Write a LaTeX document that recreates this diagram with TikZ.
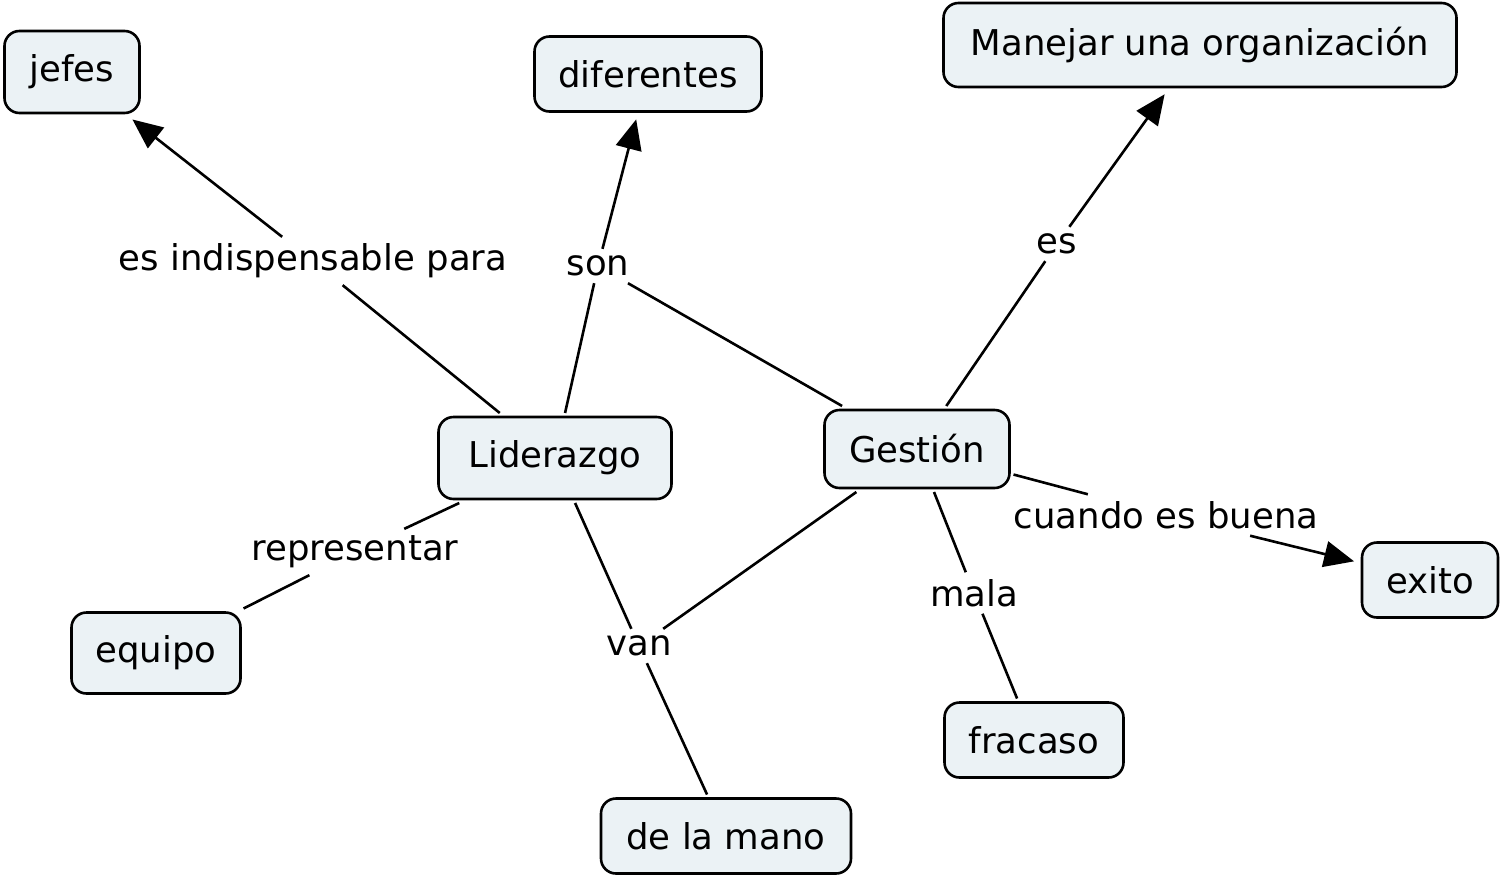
\documentclass[tikz,border=0pt]{standalone}
\usepackage{fontspec}
\setmainfont{DejaVu Sans}
\usetikzlibrary{arrows.meta}
\definecolor{nodefill}{RGB}{235,242,245}
\begin{document}
\begin{tikzpicture}[x=1pt,y=-1pt,
 cbox/.style={draw=black, line width=2.6pt, fill=nodefill, rounded corners=15pt, font=\fontsize{35.5}{42}\selectfont, inner sep=0pt, outer sep=4pt},
 lbl/.style={font=\fontsize{35.5}{42}\selectfont, inner sep=2pt, outer sep=5pt},
 link/.style={line width=2.6pt},
 arr/.style={link, -{Triangle[length=30pt,width=26pt]}, shorten >=4pt}
]
\useasboundingbox (0,0) rectangle (1504,881);
% concepts
\node[cbox, minimum width=135pt, minimum height=82pt] (jefes) at (72,72) {jefes};
\node[cbox, minimum width=227pt, minimum height=75pt] (dif) at (648,74) {diferentes};
\node[cbox, minimum width=513pt, minimum height=84pt] (man) at (1200,45) {Manejar una organización};
\node[cbox, minimum width=233pt, minimum height=82pt] (lid) at (555,458) {Liderazgo};
\node[cbox, minimum width=185pt, minimum height=78pt] (ges) at (917,449) {Gestión};
\node[cbox, minimum width=136pt, minimum height=75pt] (exito) at (1430,580) {exito};
\node[cbox, minimum width=169pt, minimum height=81pt] (equipo) at (156,653) {equipo};
\node[cbox, minimum width=179pt, minimum height=75pt] (fracaso) at (1034,740) {fracaso};
\node[cbox, minimum width=250pt, minimum height=75pt] (mano) at (726,836) {de la mano};
% linking phrases
\node[lbl] (l1) at (313,261) {es indispensable para};
\node[lbl] (l2) at (598,266) {son};
\node[lbl] (l3) at (1057,244) {es};
\node[lbl] (l4) at (1166,515) {cuando es buena};
\node[lbl] (l5) at (974,593) {mala};
\node[lbl] (l6) at (639,646) {van};
\node[lbl] (l7) at (355,552) {representar};
% connectors
\draw[link] (lid) -- (l1); \draw[arr] (l1) -- (jefes);
\draw[link] (lid) -- (l2); \draw[link] (ges) -- (l2); \draw[arr] (l2) -- (dif);
\draw[link] (ges) -- (l3); \draw[arr] (l3) -- (man);
\draw[link] (ges) -- (l4); \draw[arr] (l4) -- (exito);
\draw[link] (ges) -- (l5); \draw[link] (l5) -- (fracaso);
\draw[link] (lid) -- (l6); \draw[link] (ges) -- (l6); \draw[link] (l6) -- (mano);
\draw[link] (lid) -- (l7); \draw[link] (l7) -- (equipo);
\end{tikzpicture}
\end{document}
